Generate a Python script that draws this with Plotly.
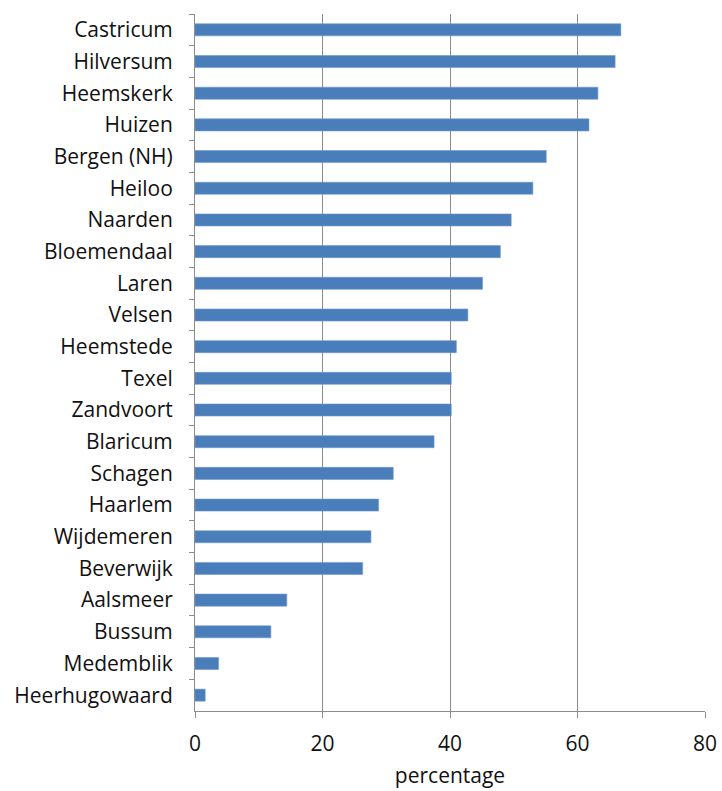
import plotly.graph_objects as go

# Municipalities, top to bottom
gemeenten = [
    "Castricum", "Hilversum", "Heemskerk", "Huizen", "Bergen (NH)", "Heiloo",
    "Naarden", "Bloemendaal", "Laren", "Velsen", "Heemstede", "Texel",
    "Zandvoort", "Blaricum", "Schagen", "Haarlem", "Wijdemeren", "Beverwijk",
    "Aalsmeer", "Bussum", "Medemblik", "Heerhugowaard",
]
percentage = [
    66.8, 65.9, 63.2, 61.8, 55.1, 53.0,
    49.6, 47.9, 45.1, 42.8, 41.0, 40.2,
    40.2, 37.5, 31.1, 28.8, 27.6, 26.3,
    14.4, 11.9, 3.7, 1.6,
]
x_ticks = [0, 20, 40, 60, 80]

font_family = "'Open Sans', Lato, sans-serif"

fig = go.Figure(
    go.Bar(
        x=percentage,
        y=gemeenten,
        orientation="h",
        marker=dict(color="#4a7ebb", line=dict(color="#6f98cf", width=0.6)),
        hoverinfo="x+y",
    )
)

fig.update_layout(
    width=722,
    height=791,
    margin=dict(l=195, r=17, t=14, b=80),
    paper_bgcolor="white",
    plot_bgcolor="white",
    bargap=0.62,
    showlegend=False,
    font=dict(family=font_family, size=21, color="#111111"),
)

fig.update_xaxes(
    range=[0, 80],
    tickvals=x_ticks,
    ticktext=[str(v) for v in x_ticks],
    showgrid=True,
    gridcolor="#8c8c8c",
    gridwidth=1,
    zeroline=False,
    showline=True,
    linecolor="#8c8c8c",
    linewidth=1,
    ticks="outside",
    ticklen=6,
    tickcolor="#8c8c8c",
    tickfont=dict(size=21),
    ticklabelstandoff=8,
    title=dict(text="percentage", font=dict(size=21), standoff=12),
    automargin=False,
)

fig.update_yaxes(
    type="category",
    categoryorder="array",
    categoryarray=gemeenten,
    autorange="reversed",
    showline=True,
    linecolor="#8c8c8c",
    linewidth=1,
    ticks="outside",
    tickson="boundaries",
    ticklen=5,
    tickcolor="#8c8c8c",
    showgrid=False,
    tickfont=dict(size=21),
    ticklabelstandoff=17,
    automargin=False,
)

fig.write_html("out.html")
